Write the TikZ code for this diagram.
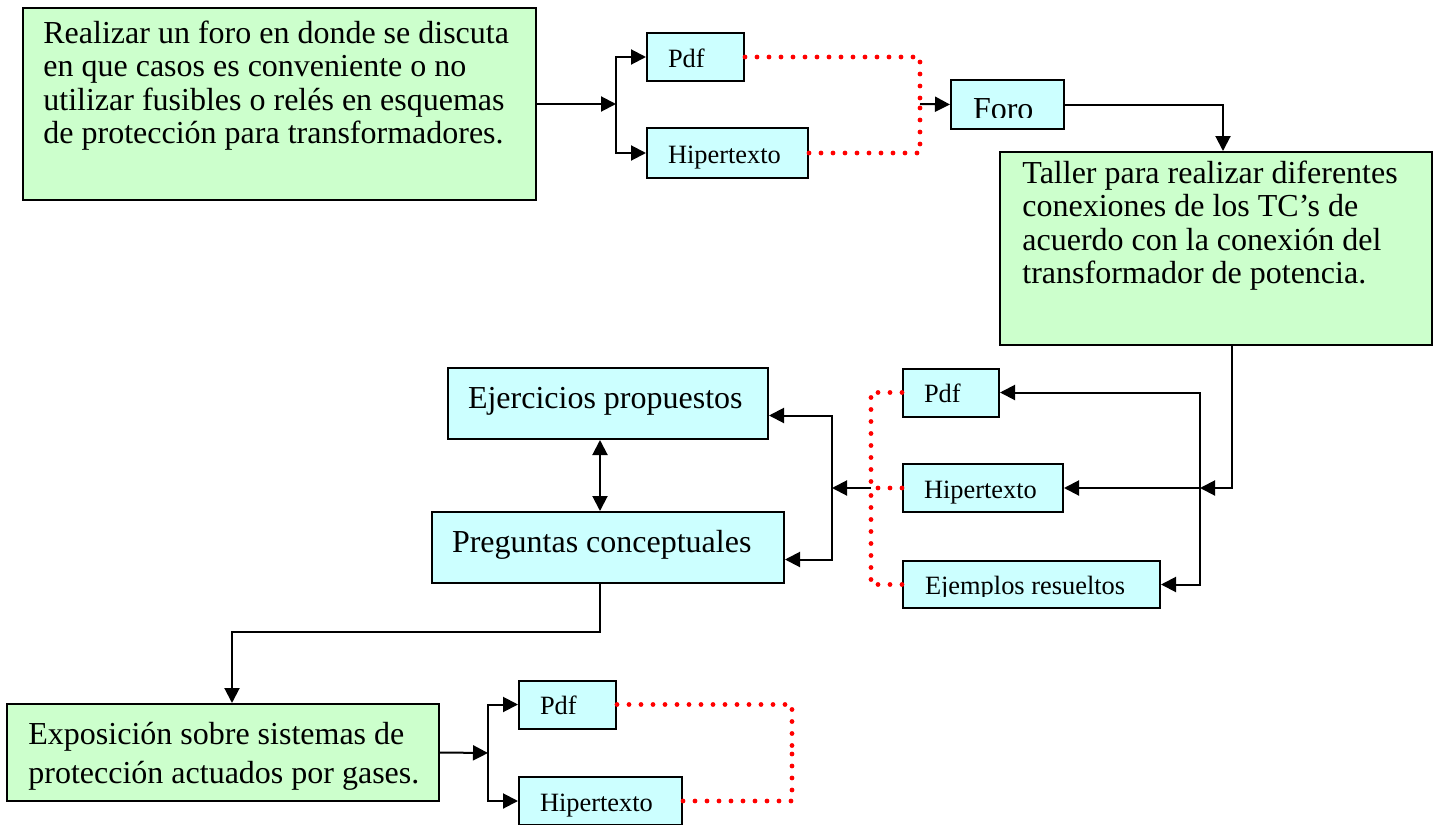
\documentclass[tikz,border=0pt]{standalone}
\usepackage{fontspec}
\setmainfont{Liberation Serif}
\usetikzlibrary{arrows.meta}
\definecolor{actgreen}{RGB}{204,255,204}
\definecolor{rescyan}{RGB}{204,255,255}
\newcommand{\bigfont}{\fontsize{16}{16.7}\selectfont}
\newcommand{\smallfont}{\fontsize{13.2}{15}\selectfont}

\begin{document}
\begin{tikzpicture}[
  x=0.5pt, y=-0.5pt,
  activity/.style={rectangle, draw=black, line width=1pt, fill=actgreen},
  acttext/.style={anchor=north west, inner sep=0pt, align=left, font=\bigfont},
  resbox/.style={rectangle, draw=black, line width=1pt, fill=rescyan, inner xsep=10.5pt,
    align=flush left, font=\smallfont, minimum height=24pt, text height=10pt, text depth=0pt},
  bigres/.style={resbox, inner xsep=10pt, font=\bigfont, minimum height=35.5pt,
    text height=11pt, text depth=6pt},
  cuttext/.style n args={3}{path picture={
    \clip (path picture bounding box.north west) rectangle ([yshift=6pt]path picture bounding box.south east);
    \node[anchor=base west, inner sep=0pt, minimum size=0pt, text height={}, text depth={}, font=#1]
      (cut) at ([xshift=10.5pt, yshift=-#2]path picture bounding box.west) {#3};}},
  arrow/.style={-{Triangle[length=7.5pt, width=7.5pt]}, line width=1pt},
  twoway/.style={{Triangle[length=7.5pt, width=7.5pt]}-{Triangle[length=7.5pt, width=7.5pt]}, line width=1pt},
  dots/.style={red, line width=2.4pt, line cap=round, dash pattern=on 0pt off 6pt},
]
\useasboundingbox (0,0) rectangle (1437,825);

% === Activity 1: forum ===
\node[activity, minimum width=256.5pt, minimum height=96pt] (forumTask) at (279.5,104) {};
\node[acttext] (forumText) at (43,20.5) {Realizar un foro en donde se discuta\\
  en que casos es conveniente o no\\ utilizar fusibles o relés en esquemas\\
  de protección para transformadores.};

\node[resbox, text width=27.5pt] (pdfA) at (695.5,57) {Pdf};
\node[resbox, text width=59.5pt, minimum height=25pt] (hipA) at (727.5,153) {Hipertexto};
\node[resbox, minimum width=56.5pt, minimum height=24.5pt,
  cuttext={\bigfont}{7.25pt}{Foro}] (forum) at (1007.5,104.5) {};

% === Activity 2: workshop ===
\node[activity, minimum width=216pt, minimum height=96.5pt] (workshop) at (1216,248.5) {};
\node[acttext] (workshopText) at (1022,160.5) {Taller para realizar diferentes\\
  conexiones de los TC’s de\\ acuerdo con la conexión del\\ transformador de potencia.};

\node[resbox, text width=27pt] (pdfB) at (951,392.5) {Pdf};
\node[resbox, text width=59pt] (hipB) at (983,488) {Hipertexto};
\node[resbox, minimum width=128.5pt, minimum height=23.5pt,
  cuttext={\smallfont}{5pt}{Ejemplos resueltos}] (examples) at (1031.5,584.5) {};

\node[bigres, text width=140pt] (exercises) at (608,403.5) {Ejercicios propuestos};
\node[bigres, text width=156pt] (questions) at (608,547.5) {Preguntas conceptuales};

% === Activity 3: talk ===
\node[activity, minimum width=216pt, minimum height=48.5pt] (talk) at (223,752.5) {};
\node[acttext, font=\fontsize{16}{19.5}\selectfont] (talkText) at (28,721.5)
  {Exposición sobre sistemas de\\ protección actuados por gases.};

\node[resbox, text width=27.5pt] (pdfC) at (567.5,704.5) {Pdf};
\node[resbox, text width=60.5pt] (hipC) at (600.5,801) {Hipertexto};

% === Connectors ===
\coordinate (j1) at (616,104);
\coordinate (d1) at (920,104);
\draw[arrow] (forumTask.east) -- (j1);
\draw[arrow] (j1) |- (pdfA.west);
\draw[arrow] (j1) |- (hipA.west);
\draw[dots] (pdfA.east) -| (d1);
\draw[dots] (hipA.east) -| (d1);
\draw[arrow] (d1) -- (forum.west);
\draw[arrow] (forum.east) -| ([xshift=3.5pt]workshop.north);

\coordinate (j2) at (1200,488);
\coordinate (d2) at (871,488);
\coordinate (j3) at (832,488);
\draw[arrow] ([xshift=8pt]workshop.south) |- (j2);
\draw[arrow] (j2) |- (pdfB.east);
\draw[arrow] (j2) -- (hipB.east);
\draw[arrow] (j2) |- (examples.east);
\draw[dots] (pdfB.west) -| (d2);
\draw[dots] (examples.west) -| (d2);
\draw[dots] (hipB.west) -- (d2);
\draw[arrow] (d2) -- (j3);
\draw[arrow] (j3) |- ([yshift=-6pt]exercises.east);
\draw[arrow] (j3) |- ([yshift=-6pt]questions.east);
\draw[twoway] ([xshift=-4pt]exercises.south) -- ([xshift=-4pt]questions.north);

\coordinate (bend) at (232,632);
\coordinate (j4) at (488,753);
\coordinate (d3) at (792,753);
\draw[arrow] ([xshift=-4pt]questions.south) |- (bend) -- (bend |- talk.north);
\draw[arrow] (talk.east) -- (j4);
\draw[arrow] (j4) |- (pdfC.west);
\draw[arrow] (j4) |- (hipC.west);
\draw[dots] (pdfC.east) -| (d3);
\draw[dots] (hipC.east) -| (d3);

\end{tikzpicture}
\end{document}
